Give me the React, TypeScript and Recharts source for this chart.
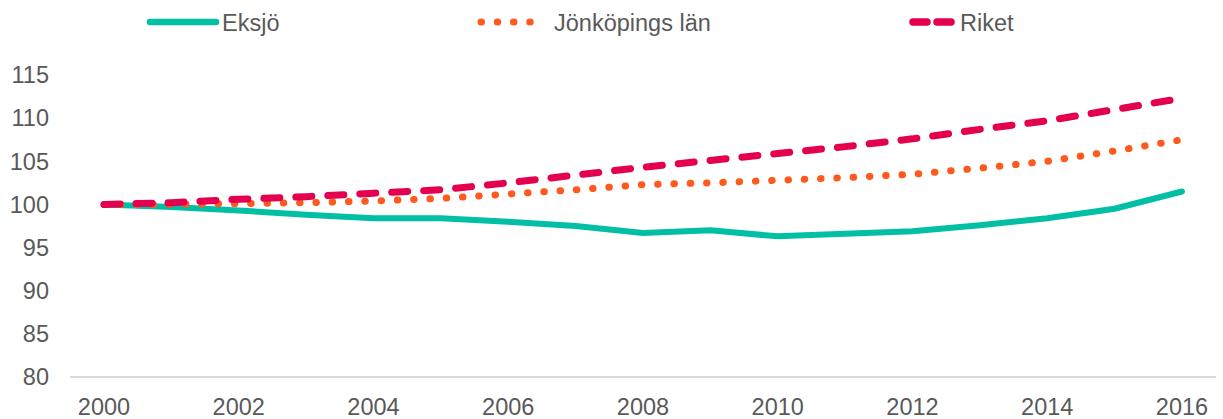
import { LineChart, Line, XAxis, YAxis } from 'recharts';

const years = [
  '2000', '2001', '2002', '2003', '2004', '2005', '2006', '2007', '2008',
  '2009', '2010', '2011', '2012', '2013', '2014', '2015', '2016',
];

const eksjo = [
  100, 99.7, 99.3, 98.8, 98.4, 98.4, 98.0, 97.5, 96.7,
  97.0, 96.3, 96.6, 96.9, 97.6, 98.4, 99.5, 101.5,
];

const jonkoping = [
  100, 100.0, 100.1, 100.2, 100.4, 100.7, 101.2, 101.7, 102.3,
  102.5, 102.8, 103.1, 103.5, 104.2, 105.0, 106.2, 107.5,
];

const riket = [
  100, 100.2, 100.6, 100.9, 101.3, 101.7, 102.5, 103.4, 104.3,
  105.1, 105.9, 106.7, 107.6, 108.7, 109.7, 111.0, 112.3,
];

const yTicks = [80, 85, 90, 95, 100, 105, 110, 115];

const data = years.map((year, i) => ({
  year,
  eksjo: eksjo[i],
  jonkoping: jonkoping[i],
  riket: riket[i],
}));

const TEXT = '#595959';
const FONT = '"Liberation Sans", Arial, sans-serif';
const FS = 23.5;

// legend samples: line start/end, dash pattern, label x
const legendItems = [
  { name: 'Eksjö', color: '#00BFA5', dash: undefined, x1: 150, x2: 216, width: 6.5, tx: 222 },
  { name: 'Jönköpings län', color: '#FF5A1E', dash: '0.5 15.75', x1: 481, x2: 546, width: 7, tx: 554 },
  { name: 'Riket', color: '#E4004F', dash: '14 10', x1: 913, x2: 954, width: 7.5, tx: 960 },
];

function TopLegend() {
  return (
    <svg width={1223} height={44} style={{ position: 'absolute', left: 0, top: 0 }}>
      {legendItems.map((item) => (
        <g key={item.name}>
          <line
            x1={item.x1}
            y1={22}
            x2={item.x2}
            y2={22}
            stroke={item.color}
            strokeWidth={item.width}
            strokeLinecap="round"
            strokeDasharray={item.dash}
          />
          <text x={item.tx} y={30.5} fill={TEXT} fontSize={FS} fontFamily={FONT}>
            {item.name}
          </text>
        </g>
      ))}
    </svg>
  );
}

export default function App() {
  return (
    <div style={{ position: 'absolute', left: 0, top: 0, width: 1223, height: 419, background: '#fff' }}>
      <LineChart
        width={1223}
        height={419}
        data={data}
        margin={{ top: 75, right: 7, left: 0, bottom: 0 }}
      >
        <XAxis
          dataKey="year"
          interval={1}
          padding={{ left: 34, right: 34 }}
          tickLine={false}
          tickSize={0}
          tickMargin={21}
          height={42}
          axisLine={{ stroke: '#d9d9d9', strokeWidth: 2 }}
          tick={{ fill: TEXT, fontSize: FS, fontFamily: FONT }}
        />
        <YAxis
          domain={[80, 115]}
          ticks={yTicks}
          width={70}
          axisLine={false}
          tickLine={false}
          tickSize={0}
          tickMargin={21}
          tick={{ fill: TEXT, fontSize: FS, fontFamily: FONT }}
        />
        <Line
          dataKey="eksjo"
          stroke="#00BFA5"
          strokeWidth={6}
          dot={false}
          strokeLinecap="round"
          isAnimationActive={false}
        />
        <Line
          dataKey="jonkoping"
          stroke="#FF5A1E"
          strokeWidth={7}
          strokeDasharray="0.5 15.8"
          strokeLinecap="round"
          dot={false}
          isAnimationActive={false}
        />
        <Line
          dataKey="riket"
          stroke="#E4004F"
          strokeWidth={7}
          strokeDasharray="16 16"
          strokeLinecap="round"
          dot={false}
          isAnimationActive={false}
        />
      </LineChart>
      <TopLegend />
    </div>
  );
}
